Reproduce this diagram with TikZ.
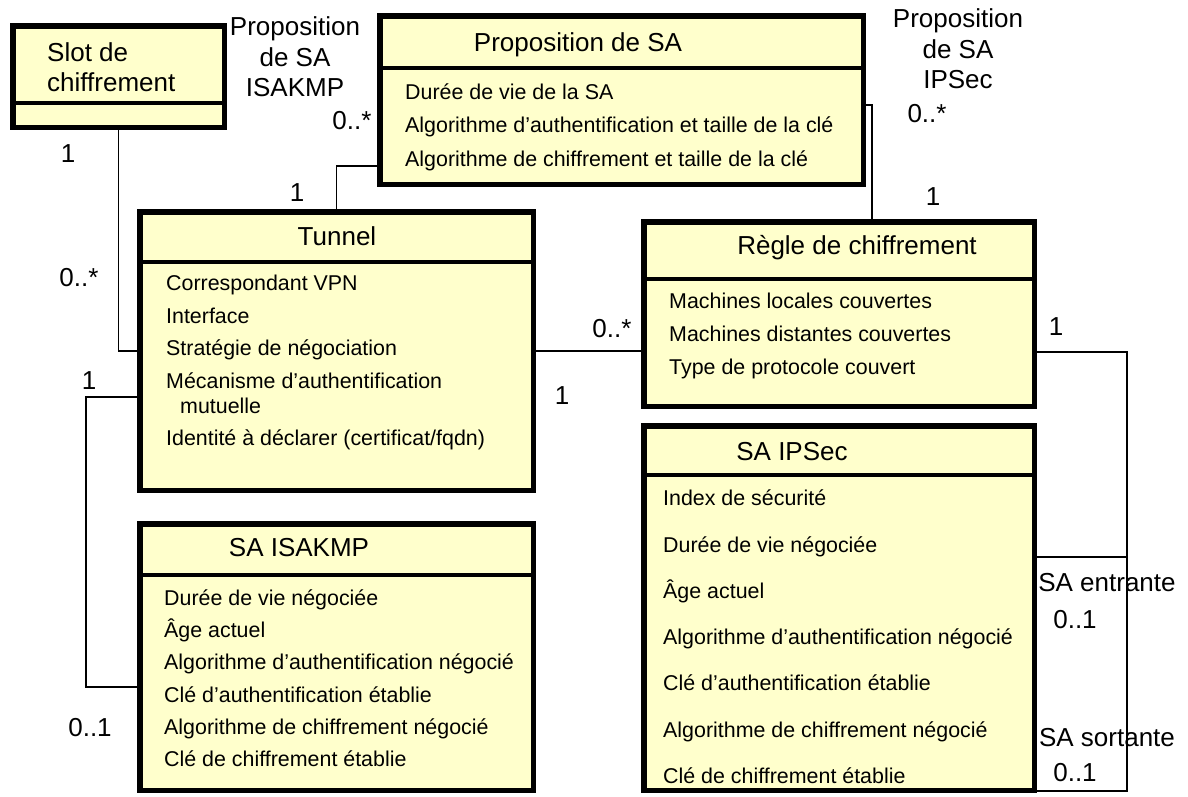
\documentclass[tikz,border=0pt]{standalone}
\usepackage{fontspec}
\setmainfont{Liberation Sans}
\usetikzlibrary{positioning}
\definecolor{classyellow}{HTML}{FFFFCC}
\tikzset{
    %Define style for class boxes
    classbox/.style={
           rectangle,
           draw=black, line width=5.5pt,
           fill=classyellow,
           anchor=north west,
           outer sep=2.75pt,
           inner sep=0pt},
    %Define style for class names
    title-style/.style={
           font=\fontsize{26pt}{30pt}\selectfont,
           inner sep=0pt,
           text height=18.6pt,
           text depth=0pt},
    %Define style for attribute lists
    attr-style/.style={
           anchor=north west,
           align=left,
           inner sep=0pt,
           font=\fontsize{21.4pt}{#1}\selectfont},
    % Define style for multiplicities
    mult/.style={
           font=\fontsize{26pt}{30pt}\selectfont,
           inner sep=0pt,
           text height=18.6pt,
           text depth=0pt},
    role/.style={
           font=\fontsize{26pt}{30.5pt}\selectfont,
           anchor=north,
           align=center,
           inner sep=0pt},
    % Define line styles
    divider/.style={line width=3.5pt},
    assoc/.style={draw=black, line width=1.6pt}
}
\begin{document}
\begin{tikzpicture}[x=1pt, y=-1pt]
 \useasboundingbox (0,0) rectangle (1188,796);

 % classes
 \node[classbox, minimum width=211.5pt, minimum height=101.5pt] (slot) at (10,23) {};
 \node[classbox, minimum width=483.5pt, minimum height=168.5pt] (prop) at (377,13) {};
 \node[classbox, minimum width=393.5pt, minimum height=278.5pt] (tunnel) at (137,209) {};
 \node[classbox, minimum width=393.5pt, minimum height=266.5pt] (isakmp) at (137,521) {};
 \node[classbox, minimum width=390.5pt, minimum height=184.5pt] (regle) at (641,219) {};
 \node[classbox, minimum width=390.5pt, minimum height=364.5pt] (ipsec) at (641,423) {};

 \draw[divider] ([yshift=-80pt]slot.north west) -- ([yshift=-80pt]slot.north east);
 \draw[divider] ([yshift=-55pt]prop.north west) -- ([yshift=-55pt]prop.north east);
 \draw[divider] ([yshift=-53pt]tunnel.north west) -- ([yshift=-53pt]tunnel.north east);
 \draw[divider] ([yshift=-54pt]isakmp.north west) -- ([yshift=-54pt]isakmp.north east);
 \draw[divider] ([yshift=-60pt]regle.north west) -- ([yshift=-60pt]regle.north east);
 \draw[divider] ([yshift=-52pt]ipsec.north west) -- ([yshift=-52pt]ipsec.north east);

 \node[title-style, anchor=west, align=left, text height=, text depth=] (slot-name) at (47,67) {Slot de\\chiffrement};
 \node[title-style] (prop-name) at (578,42) {Proposition de SA};
 \node[title-style] (tunnel-name) at (337,236) {Tunnel};
 \node[title-style] (isakmp-name) at (299,547) {SA ISAKMP};
 \node[title-style] (regle-name) at (857,245) {Règle de chiffrement};
 \node[title-style] (ipsec-name) at (792,451) {SA IPSec};

 \node[attr-style=33.5pt] (prop-attr) at (405,83.3) {
 	Durée de vie de la SA\\
 	Algorithme d’authentification et taille de la clé\\
 	Algorithme de chiffrement et taille de la clé};
 \node[attr-style=32.5pt] (tunnel-attr) at (166,275) {
 	Correspondant VPN\\
 	Interface\\
 	Stratégie de négociation\\
 	Mécanisme d’authentification\\[-7.5pt]
 	\hspace*{14pt}mutuelle\\
 	Identité à déclarer (certificat/fqdn)};
 \node[attr-style=32.3pt] (isakmp-attr) at (164,589.3) {
 	Durée de vie négociée\\
 	Âge actuel\\
 	Algorithme d’authentification négocié\\
 	Clé d’authentification établie\\
 	Algorithme de chiffrement négocié\\
 	Clé de chiffrement établie};
 \node[attr-style=33pt] (regle-attr) at (669,292.3) {
 	Machines locales couvertes\\
 	Machines distantes couvertes\\
 	Type de protocole couvert};
 \node[attr-style=46.3pt] (ipsec-attr) at (663,489.8) {
 	Index de sécurité\\
 	Durée de vie négociée\\
 	Âge actuel\\
 	Algorithme d’authentification négocié\\
 	Clé d’authentification établie\\
 	Algorithme de chiffrement négocié\\
 	Clé de chiffrement établie};

 % associations
 \draw[assoc] (slot.south) |- (tunnel.west);
 \draw[assoc] (tunnel.north) |- ([yshift=21pt]prop.south west);
 \draw[assoc] ([yshift=-5pt]prop.east) -| ([xshift=33pt]regle.north);
 \draw[assoc] (tunnel.east) -- (tunnel.east -| regle.west);
 \draw[assoc] ([yshift=-46pt]tunnel.west) -- ++(-51,0) |- ([yshift=-30pt]isakmp.west);
 \draw[assoc] ([yshift=-38pt]regle.east) -- ++(90,0) |- ([yshift=2pt]ipsec.south east);
 \draw[assoc] ([yshift=51pt]ipsec.east) -- ++(90,0);

 \node[mult] (slot-one) at (68,153) {1};
 \node[mult] (tunnel-many) at (79,277) {0..*};
 \node[role] (role-isakmp) at (295,16.7) {Proposition\\de SA\\ISAKMP};
 \node[mult] (prop-many-left) at (352,120) {0..*};
 \node[mult] (tunnel-one-top) at (297,192) {1};
 \node[role] (role-ipsec) at (958,8.7) {Proposition\\de SA\\IPSec};
 \node[mult] (prop-many-right) at (927,113) {0..*};
 \node[mult] (regle-one-top) at (933,196) {1};
 \node[mult] (regle-many) at (612,328) {0..*};
 \node[mult] (tunnel-one-right) at (562,395) {1};
 \node[mult] (tunnel-one-left) at (89,380) {1};
 \node[mult] (isakmp-opt) at (90,727) {0..1};
 \node[mult] (regle-one-right) at (1056,326) {1};
 \node[mult] (role-in) at (1107,582) {SA entrante};
 \node[mult] (in-opt) at (1075,619) {0..1};
 \node[mult] (role-out) at (1107,737) {SA sortante};
 \node[mult] (out-opt) at (1075,772) {0..1};

\end{tikzpicture}
\end{document}
